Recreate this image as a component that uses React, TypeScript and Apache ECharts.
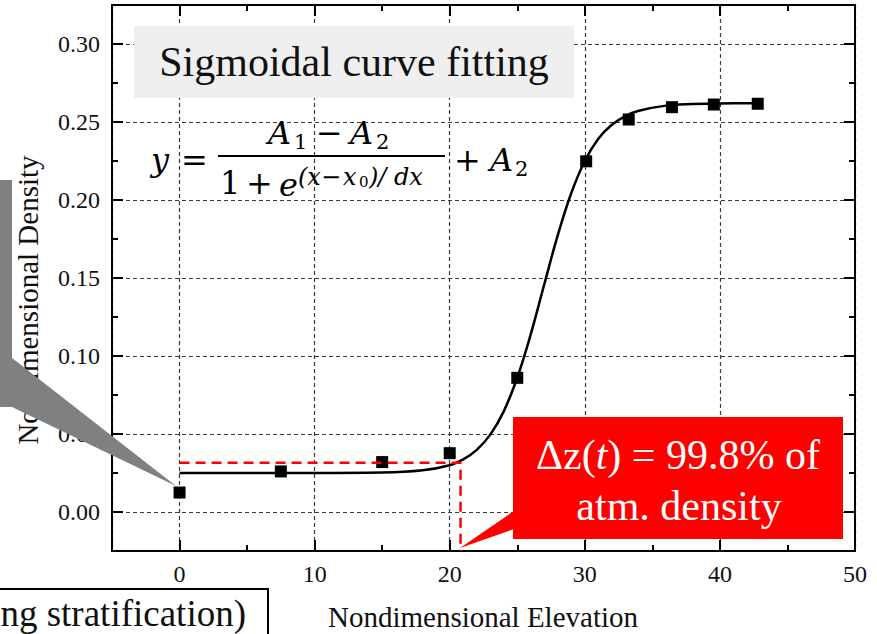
import React, { useEffect, useRef } from "react";
import * as echarts from "echarts";

// Measured points (Nondimensional Elevation vs Nondimensional Density)
const pointX = [0, 7.5, 15, 20, 25, 30.1, 33.25, 36.45, 39.55, 42.8];
const pointY = [0.0125, 0.026, 0.032, 0.0377, 0.086, 0.2248, 0.2516, 0.2595, 0.2612, 0.2617];

// Fitted sigmoid curve
const curveX = [0, 5, 10, 15, 18, 20, 21, 22, 23, 24, 25, 26, 27, 28, 29, 30, 31, 32, 33, 34, 36, 38, 40, 43];
const curveY = [0.025, 0.025, 0.025, 0.0253, 0.0268, 0.03, 0.0337, 0.0398, 0.0496, 0.0645, 0.0862, 0.114, 0.146, 0.1775, 0.2045, 0.225, 0.2392, 0.2482, 0.2538, 0.2572, 0.2605, 0.2615, 0.2619, 0.262];

// Red dashed guide (99.8% level)
const guideX = [0, 20.8, 20.8];
const guideY = [0.0315, 0.0315, -0.025];

const xRange = [-5, 50];
const yRange = [-0.025, 0.325];

const SERIF = "'Liberation Serif', 'Times New Roman', serif";
const MATH = "'DejaVu Serif', 'Liberation Serif', serif";

export default function App() {
  const ref = useRef<HTMLDivElement>(null);
  useEffect(() => {
    if (!ref.current) return;
    const chart = echarts.init(ref.current, null, { renderer: "svg" });
    const frameLine = { show: true, onZero: false, lineStyle: { color: "#000", width: 2 } };
    const hiddenLine = { show: false, onZero: false };
    const majorTick = { show: true, inside: true, length: 11, lineStyle: { color: "#000", width: 2 } };
    const minorTick = { show: true, inside: true, length: 6, lineStyle: { color: "#000", width: 2 } };
    const grid = { type: [4, 3], color: "#3a3a3a", width: 1.2 };
    const mkX = (pos: string, major: boolean, labels: boolean) => ({
      type: "value",
      gridIndex: 0,
      position: pos,
      min: xRange[0],
      max: xRange[1],
      ...(major ? { splitNumber: 5 } : { interval: 5 }),
      axisLine: major ? frameLine : hiddenLine,
      axisTick: major ? majorTick : minorTick,
      axisLabel: labels
        ? { show: true, showMinLabel: false, margin: 11, fontSize: 24, fontFamily: SERIF, color: "#111" }
        : { show: false },
      splitLine: labels ? { show: true, lineStyle: grid } : { show: false },
    });
    const mkY = (pos: string, major: boolean, labels: boolean) => ({
      type: "value",
      gridIndex: 0,
      position: pos,
      min: yRange[0],
      max: yRange[1],
      ...(major ? { splitNumber: 7 } : { interval: 0.025 }),
      axisLine: major ? frameLine : hiddenLine,
      axisTick: major ? majorTick : minorTick,
      axisLabel: labels
        ? {
            show: true,
            showMinLabel: false,
            showMaxLabel: false,
            margin: 12,
            fontSize: 24,
            fontFamily: SERIF,
            color: "#111",
            formatter: (v: number) => v.toFixed(2),
          }
        : { show: false },
      splitLine: labels ? { show: true, lineStyle: grid } : { show: false },
    });

    const mf = (size: number, italic = false) => `${italic ? "italic " : ""}${size}px ${MATH}`;
    const t = (x: number, y: number, text: string, font: string, extra: any = {}) => ({
      type: "text",
      z: 51,
      x,
      y,
      style: { text, font, fill: "#000", verticalAlign: "middle", ...extra },
    });

    chart.setOption({
      animation: false,
      backgroundColor: "#fff",
      grid: { left: 112, right: 22, top: 5, bottom: 83, show: false, containLabel: false, outerBoundsMode: "none" },
      xAxis: [mkX("bottom", true, true), mkX("bottom", false, false), mkX("top", true, false), mkX("top", false, false)],
      yAxis: [mkY("left", true, true), mkY("left", false, false), mkY("right", true, false), mkY("right", false, false)],
      series: [
        {
          type: "line",
          xAxisIndex: 0,
          yAxisIndex: 0,
          data: curveX.map((x, i) => [x, curveY[i]]),
          showSymbol: false,
          smooth: 0.4,
          lineStyle: { color: "#000", width: 2.5 },
          z: 3,
        },
        {
          type: "scatter",
          xAxisIndex: 0,
          yAxisIndex: 0,
          data: pointX.map((x, i) => [x, pointY[i]]),
          symbol: "rect",
          symbolSize: 12,
          itemStyle: { color: "#000", opacity: 1 },
          z: 4,
        },
        {
          type: "line",
          xAxisIndex: 0,
          yAxisIndex: 0,
          data: guideX.map((x, i) => [x, guideY[i]]),
          showSymbol: false,
          lineStyle: { color: "#ff0000", width: 2.5, type: [10, 6] },
          z: 5,
        },
      ],
      graphic: [
        // title box
        { type: "rect", z: 50, shape: { x: 134, y: 26, width: 440, height: 72 }, style: { fill: "#efefef" } },
        {
          type: "text",
          z: 51,
          x: 354,
          y: 62,
          style: { text: "Sigmoidal curve fitting", font: `42px ${SERIF}`, fill: "#111", align: "center", verticalAlign: "middle" },
        },
        // formula
        t(151, 160, "y", mf(32, true)),
        t(181, 160, "=", mf(32)),
        t(268, 133, "A", mf(32, true)),
        t(294, 142, "1", mf(21)),
        t(316, 133, "−", mf(32)),
        t(350, 133, "A", mf(32, true)),
        t(376, 142, "2", mf(21)),
        { type: "line", z: 51, shape: { x1: 218, y1: 156, x2: 445, y2: 156 }, style: { stroke: "#000", lineWidth: 2 } },
        t(220, 183, "1", mf(32)),
        t(246, 183, "+", mf(32)),
        t(279, 185, "e", mf(32, true)),
        t(298, 177, "(x", mf(24, true)),
        t(321, 177, "−", mf(24)),
        t(343, 177, "x", mf(24, true)),
        t(359, 182, "0", mf(15)),
        t(369, 177, ")/", mf(24, true)),
        t(394, 177, "dx", mf(24, true)),
        t(454, 160, "+", mf(32)),
        t(490, 160, "A", mf(32, true)),
        t(515, 169, "2", mf(21)),
        // axis titles
        {
          type: "text",
          z: 40,
          x: 483,
          y: 617,
          style: { text: "Nondimensional Elevation", font: `29px ${SERIF}`, fill: "#111", align: "center", verticalAlign: "middle" },
        },
        {
          type: "text",
          z: 40,
          x: 28,
          y: 300,
          rotation: Math.PI / 2,
          style: { text: "Nondimensional Density", font: `29px ${SERIF}`, fill: "#111", align: "center", verticalAlign: "middle" },
        },
        // gray callout
        { type: "rect", z: 60, shape: { x: -5, y: 180, width: 17, height: 227 }, style: { fill: "#808080" } },
        { type: "polygon", z: 60, shape: { points: [[12, 358], [176, 486], [12, 407]] }, style: { fill: "#808080" } },
        // red callout
        { type: "rect", z: 60, shape: { x: 513, y: 417, width: 330, height: 122 }, style: { fill: "#ff0000" } },
        { type: "polygon", z: 60, shape: { points: [[514, 511], [460, 548], [514, 529]] }, style: { fill: "#ff0000" } },
        {
          type: "text",
          z: 61,
          x: 678,
          y: 455,
          style: {
            text: "Δz({i|t}) = 99.8% of",
            font: `42px ${SERIF}`,
            fill: "#fff",
            align: "center",
            verticalAlign: "middle",
            rich: { i: { font: `italic 42px ${SERIF}`, fill: "#fff" } },
          },
        },
        {
          type: "text",
          z: 61,
          x: 679,
          y: 506,
          style: { text: "atm. density", font: `42px ${SERIF}`, fill: "#fff", align: "center", verticalAlign: "middle" },
        },
        // bottom-left note box
        {
          type: "rect",
          z: 60,
          shape: { x: -5, y: 589, width: 273, height: 60 },
          style: { fill: "#fff", stroke: "#000", lineWidth: 2 },
        },
        {
          type: "text",
          z: 61,
          x: 246,
          y: 632,
          style: { text: "ng stratification)", font: `37px ${SERIF}`, fill: "#111", align: "right", verticalAlign: "bottom" },
        },
      ],
    });
    return () => chart.dispose();
  }, []);
  return <div ref={ref} style={{ position: "fixed", left: 0, top: 0, width: 877, height: 634 }} />;
}
